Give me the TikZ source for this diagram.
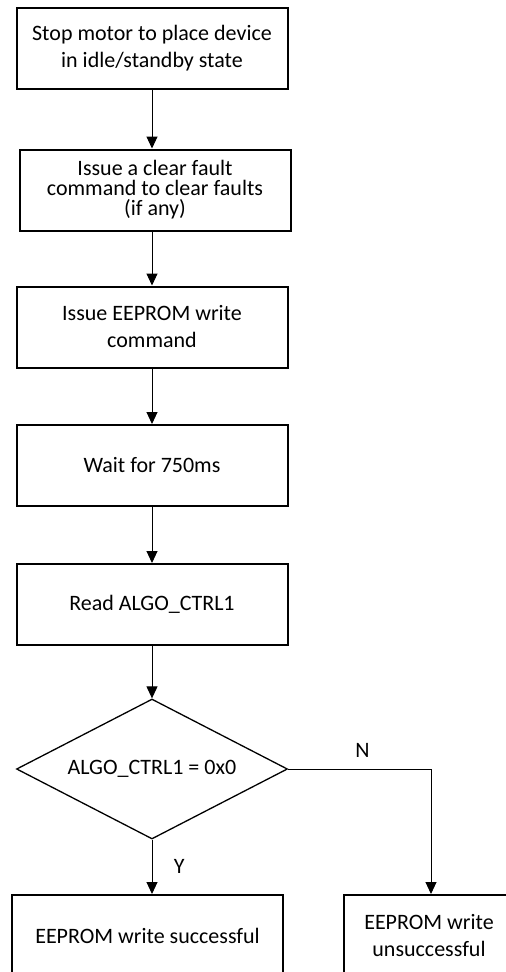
\documentclass[tikz,border=0pt]{standalone}
\usepackage{fontspec}
\setmainfont{Carlito}
\usetikzlibrary{arrows.meta,shapes.geometric,positioning}
\tikzstyle{stepbox}=[draw,line width=2pt,minimum width=271pt,minimum height=81pt,inner sep=0pt,align=center,font=\fontsize{22}{27}\selectfont]
\tikzstyle{decision}=[diamond,aspect=2,draw,line width=1.3pt,minimum width=271pt,minimum height=140pt,inner sep=0pt,font=\fontsize{22}{27}\selectfont]
\tikzstyle{edge} = [draw,line width=1pt,-{Triangle[length=12pt,width=11pt]}]
\tikzstyle{answer} = [font=\fontsize{22}{27}\selectfont]

\begin{document}
\begin{tikzpicture}[x=1pt,y=-1pt]
    \useasboundingbox (0,0) rectangle (506,972);
    % steps of the write sequence
    \node[stepbox] (stop) at (152,48.5) {Stop motor to place device\\in idle/standby state};
    \node[stepbox,font=\fontsize{22}{20}\selectfont] (clear) at (155,190) {Issue a clear fault\\command to clear faults\\(if any)};
    \node[stepbox] (write) at (152,327) {Issue EEPROM write\\command};
    \node[stepbox] (wait) at (152,465.5) {Wait for 750ms};
    \node[stepbox] (read) at (152,604.5) {Read ALGO\_CTRL1};
    \node[decision] (check) at (152,769) {ALGO\_CTRL1 = 0x0};
    \node[stepbox] (pass) at (147.5,935.5) {EEPROM write successful};
    \node[stepbox,minimum width=170pt] (fail) at (429,935.5) {EEPROM write\\unsuccessful};

    % connect the steps
    \foreach \source/ \dest in {stop/clear, clear/write, write/wait, wait/read, read/check}
        \path[edge] (\source.south -| check) -- (\dest.north -| check);

    \path[edge] (check.south) -- node[answer,right=18pt] {Y} (check.south |- pass.north);
    \path[edge] (check.east) -| node[answer,pos=0.26,above=8pt] {N} ([xshift=2pt]fail.north);
\end{tikzpicture}
\end{document}
